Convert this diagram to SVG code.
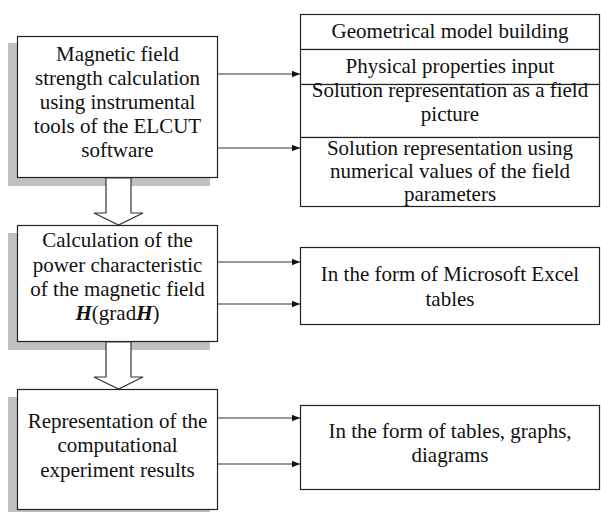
<svg xmlns="http://www.w3.org/2000/svg" width="601" height="512" viewBox="0 0 601 512">
<style>
.box{fill:#fff;stroke:#222;stroke-width:1.2}
.shadow{fill:#c0c0c0}
.hollow{fill:#fff;stroke:#333;stroke-width:1.2}
.t{font-family:"Liberation Serif","Times New Roman",serif;font-size:21px;fill:#111;text-anchor:middle}
.c{stroke:#333;stroke-width:1.2;fill:none}
.hb{font-weight:bold;font-style:italic}
</style>
<defs>
<marker id="ah" viewBox="0 0 10 8" refX="10" refY="4" markerWidth="8" markerHeight="7" markerUnits="userSpaceOnUse" orient="auto">
<path d="M0,0 L10,4 L0,8 Z" fill="#111"/>
</marker>
</defs>
<g id="shadows">
<rect class="shadow" x="8" y="43" width="202" height="143"/>
<rect class="shadow" x="8" y="233" width="202" height="117"/>
<rect class="shadow" x="8" y="397" width="202" height="121"/>
</g>
<g id="node1">
<rect class="box" x="17.5" y="36.5" width="200" height="141"/>
<text class="t" x="117.5" y="61">Magnetic field</text>
<text class="t" x="117.5" y="85">strength calculation</text>
<text class="t" x="117.5" y="109">using instrumental</text>
<text class="t" x="117.5" y="133">tools of the ELCUT</text>
<text class="t" x="117.5" y="157">software</text>
</g>
<g id="node2">
<rect class="box" x="17.5" y="225.5" width="200" height="116"/>
<text class="t" x="117.5" y="247">Calculation of the</text>
<text class="t" x="117.5" y="272">power characteristic</text>
<text class="t" x="117.5" y="296">of the magnetic field</text>
<text class="t" x="117.5" y="320"><tspan class="hb">H</tspan>(grad<tspan class="hb">H</tspan>)</text>
</g>
<g id="node3">
<rect class="box" x="17.5" y="389.5" width="200" height="120"/>
<text class="t" x="117.5" y="428">Representation of the</text>
<text class="t" x="117.5" y="452">computational</text>
<text class="t" x="117.5" y="477">experiment results</text>
</g>
<g id="node4">
<rect class="box" x="300.5" y="14.5" width="299" height="35"/>
<text class="t" x="450" y="38">Geometrical model building</text>
</g>
<g id="node5">
<rect class="box" x="300.5" y="49.5" width="299" height="35"/>
<text class="t" x="450" y="73">Physical properties input</text>
</g>
<g id="node6">
<rect class="box" x="300.5" y="84.5" width="299" height="53"/>
<text class="t" x="450" y="97">Solution representation as a field</text>
<text class="t" x="450" y="121">picture</text>
</g>
<g id="node7">
<rect class="box" x="300.5" y="137.5" width="299" height="69"/>
<text class="t" x="450" y="155">Solution representation using</text>
<text class="t" x="450" y="178">numerical values of the field</text>
<text class="t" x="450" y="201">parameters</text>
</g>
<g id="node8">
<rect class="box" x="300.5" y="247.5" width="299" height="77"/>
<text class="t" x="450" y="281">In the form of Microsoft Excel</text>
<text class="t" x="450" y="306">tables</text>
</g>
<g id="node9">
<rect class="box" x="300.5" y="405.5" width="299" height="84"/>
<text class="t" x="450" y="438">In the form of tables, graphs,</text>
<text class="t" x="450" y="462">diagrams</text>
</g>
<g id="connectors">
<polygon class="hollow" points="106,178 106,213 94,213 118.5,225 143,213 131,213 131,178"/>
<polygon class="hollow" points="106,342 106,377 94,377 118.5,389 143,377 131,377 131,342"/>
<line class="c" x1="218" y1="74" x2="300" y2="74" marker-end="url(#ah)"/>
<line class="c" x1="218" y1="148" x2="300" y2="148" marker-end="url(#ah)"/>
<line class="c" x1="218" y1="262" x2="300" y2="262" marker-end="url(#ah)"/>
<line class="c" x1="218" y1="304" x2="300" y2="304" marker-end="url(#ah)"/>
<line class="c" x1="218" y1="418" x2="300" y2="418" marker-end="url(#ah)"/>
<line class="c" x1="218" y1="464" x2="300" y2="464" marker-end="url(#ah)"/>
</g>
</svg>
